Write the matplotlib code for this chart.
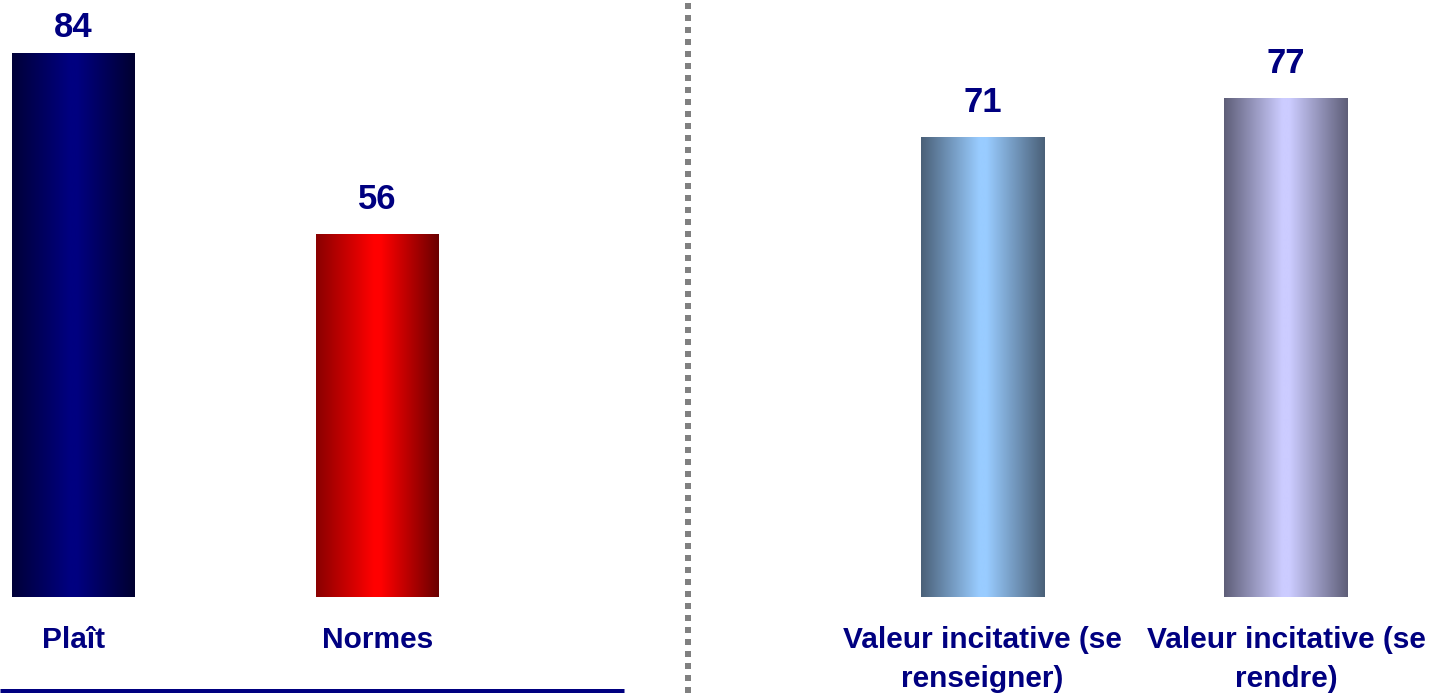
import matplotlib.pyplot as plt
import numpy as np
from matplotlib.colors import LinearSegmentedColormap
from matplotlib.lines import Line2D

left_categories = ["Plaît", "Normes"]
left_values = [84, 56]
right_categories = ["Valeur incitative (se\nrenseigner)", "Valeur incitative (se\nrendre)"]
right_values = [71, 77]

# (edge colour, centre colour, other edge colour) for the cylinder-like shading
left_shades = [("#000038", "#000080", "#000030"), ("#8a0000", "#ff0000", "#6a0000")]
right_shades = [("#4a6078", "#99ccff", "#4a6078"), ("#5e5e78", "#ccccff", "#5e5e78")]

NAVY = "#000080"
plt.rcParams["font.family"] = ["Liberation Sans", "DejaVu Sans"]

W, H = 1431, 693
fig = plt.figure(figsize=(W / 100, H / 100), dpi=100)

PX = 6.476          # pixels per unit on the value axis
base = (H - 597) / H
ymax = 597 / PX


def shade_bar(ax, bar, colors):
    cmap = LinearSegmentedColormap.from_list(
        "shade", [(0.0, colors[0]), (0.47, colors[1]), (0.53, colors[1]), (1.0, colors[2])])
    x0, y0 = bar.get_xy()
    grad = np.linspace(0, 1, 256).reshape(1, -1)
    im = ax.imshow(grad, cmap=cmap, aspect="auto", origin="lower",
                   extent=(x0, x0 + bar.get_width(), y0, y0 + bar.get_height()),
                   interpolation="bilinear", zorder=3)
    im.set_clip_path(bar)


def panel(rect, cats, vals, shades, xlim, width):
    ax = fig.add_axes(rect)
    x = np.arange(len(cats))
    bars = ax.bar(x, vals, width=width, color=[s[1] for s in shades],
                  edgecolor="none", zorder=2)
    for b, s in zip(bars, shades):
        shade_bar(ax, b, s)
    # value labels sit above the bar, but never run off the top edge
    for xi, v in zip(x, vals):
        y = min(v + 25 / PX, ymax - 37 / PX)
        ax.text(xi, y, str(v), ha="center", va="baseline", color=NAVY,
                fontsize=25, fontweight="bold")
    ax.set_xticks(x, cats, fontweight="bold", linespacing=1.5)
    ax.tick_params(axis="x", length=0, pad=21, labelsize=21.5, labelcolor=NAVY)
    ax.set_yticks([])
    ax.set_xlim(*xlim)
    ax.set_ylim(0, ymax)
    for sp in ax.spines.values():
        sp.set_visible(False)
    ax.patch.set_alpha(0)
    return ax


panel([0, base, 624 / W, 1 - base], left_categories, left_values, left_shades,
      (-73.5 / 304, (624 - 73.5) / 304), 123 / 304)
panel([700 / W, base, 731 / W, 1 - base], right_categories, right_values, right_shades,
      (-282.5 / 303.5, (W - 982.5) / 303.5), 123.5 / 303.5)

# dotted grey separator between the two panels
fig.add_artist(Line2D([688 / W, 688 / W], [0, 1], color="#808080",
                      linewidth=6 * 0.72, linestyle=(0, (1, 1)),
                      solid_capstyle="butt", dash_capstyle="butt"))
# navy rule under the left panel
fig.add_artist(Line2D([0, 624 / W], [2.5 / H, 2.5 / H], color=NAVY,
                      linewidth=5 * 0.72, solid_capstyle="butt"))

fig.savefig("out.png", dpi=100)
